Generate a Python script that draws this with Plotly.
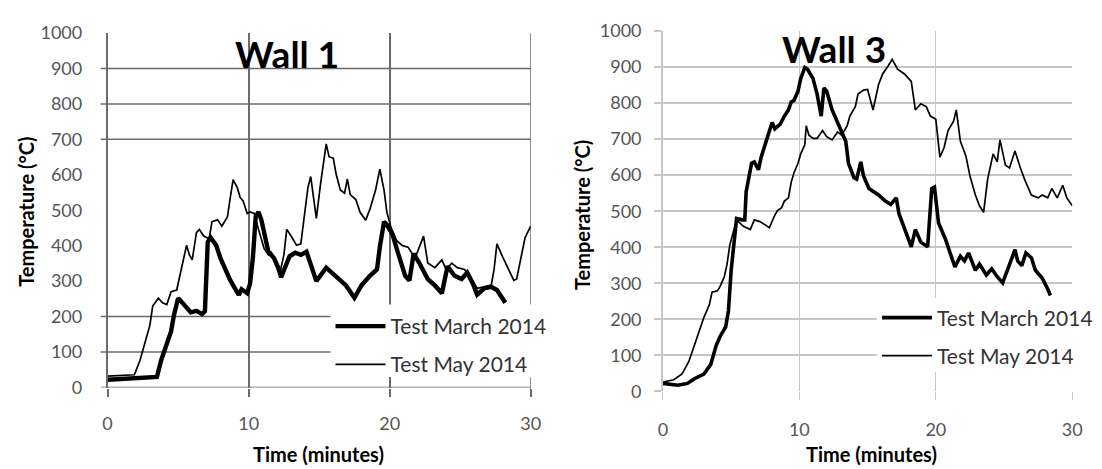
import plotly.graph_objects as go

# ---- Wall 1 : furnace temperature vs. time ----
w1_march_t = [0, 1.5, 3.0, 3.5, 3.8, 4.2, 4.5, 4.7, 5.0, 5.3,
              5.7, 5.9, 6.3, 6.7, 6.9, 7.1, 7.3, 7.7, 8.0, 8.4,
              8.7, 9.1, 9.3, 9.5, 9.9, 10.1, 10.3, 10.5, 10.7, 10.9,
              11.2, 11.4, 11.8, 12.1, 12.3, 12.6, 12.9, 13.3, 13.7, 14.1,
              14.4, 14.8, 15.5, 16.2, 16.9, 17.5, 18.0, 18.6, 19.1, 19.3,
              19.6, 19.8, 20.2, 20.6, 21.1, 21.4, 21.7, 22.1, 22.7, 23.2,
              23.7, 24.1, 24.6, 25.1, 25.5, 25.9, 26.2, 26.7, 27.2, 27.6,
              28.0, 28.2]
w1_march_v = [22, 25, 28, 30, 77, 122, 158, 203, 252, 239,
              221, 212, 216, 207, 215, 410, 423, 401, 365, 329,
              302, 275, 261, 277, 266, 293, 365, 482, 495, 473,
              419, 383, 365, 338, 311, 345, 370, 380, 374, 383,
              347, 300, 338, 315, 288, 253, 288, 315, 333, 396,
              468, 459, 432, 378, 315, 302, 378, 351, 306, 288,
              266, 342, 315, 306, 324, 293, 262, 280, 284, 275,
              253, 239]

w1_may_t = [0, 1.9, 2.3, 2.6, 3.0, 3.2, 3.6, 3.9, 4.2, 4.5,
            4.9, 5.1, 5.3, 5.6, 5.8, 6.0, 6.3, 6.5, 6.8, 7.2,
            7.4, 7.8, 8.1, 8.5, 8.7, 8.9, 9.2, 9.4, 9.6, 9.9,
            10.1, 10.4, 10.7, 11.1, 11.4, 11.6, 11.9, 12.2, 12.5, 12.7,
            13.0, 13.4, 13.7, 14.0, 14.2, 14.4, 14.6, 14.8, 15.1, 15.5,
            15.7, 16.0, 16.2, 16.5, 16.8, 17.0, 17.2, 17.6, 17.9, 18.3,
            18.6, 19.0, 19.3, 19.6, 19.8, 20.1, 20.5, 20.9, 21.3, 21.8,
            22.4, 22.7, 23.2, 23.7, 24.0, 24.4, 24.8, 25.3, 25.8, 26.2,
            26.7, 27.2, 27.4, 27.6, 28.0, 28.5, 28.8, 29.0, 29.4, 29.6,
            30.0]
w1_may_v = [32, 36, 77, 122, 176, 230, 252, 239, 234, 270,
            275, 311, 347, 401, 374, 360, 437, 446, 428, 419,
            468, 473, 455, 482, 536, 586, 563, 536, 527, 491,
            495, 491, 446, 392, 374, 383, 347, 320, 374, 446,
            428, 401, 405, 500, 563, 595, 540, 477, 575, 687,
            651, 647, 602, 557, 548, 588, 544, 530, 494, 472,
            503, 557, 616, 557, 494, 450, 414, 400, 396, 365,
            427, 351, 338, 360, 333, 351, 338, 333, 306, 280,
            284, 289, 333, 405, 369, 324, 302, 306, 378, 423,
            455]

# ---- Wall 3 ----
w3_march_t = [0, 1.1, 1.8, 2.3, 3.0, 3.5, 3.9, 4.2, 4.6, 4.8,
              5.0, 5.2, 5.4, 5.8, 6.0, 6.1, 6.5, 6.7, 7.0, 7.2,
              7.6, 8.0, 8.2, 8.6, 8.9, 9.2, 9.4, 9.6, 9.9, 10.1,
              10.4, 10.6, 11.0, 11.3, 11.6, 11.8, 12.0, 12.4, 12.8, 13.1,
              13.4, 13.6, 14.0, 14.2, 14.5, 14.7, 15.1, 15.8, 16.3, 16.7,
              17.1, 17.3, 17.7, 18.2, 18.5, 18.9, 19.4, 19.7, 19.9, 20.2,
              20.7, 21.1, 21.4, 21.8, 22.1, 22.4, 22.9, 23.2, 23.7, 24.1,
              24.5, 24.9, 25.3, 25.8, 26.0, 26.3, 26.6, 27.0, 27.3, 27.8,
              28.2, 28.4]
w3_march_v = [22, 17, 22, 35, 48, 74, 127, 153, 179, 223,
              336, 406, 480, 476, 476, 554, 633, 637, 615, 650,
              702, 746, 729, 742, 764, 781, 803, 807, 833, 868,
              899, 894, 868, 825, 764, 842, 833, 781, 746, 720,
              694, 633, 593, 589, 637, 598, 563, 545, 528, 519,
              537, 493, 449, 401, 449, 414, 401, 563, 567, 467,
              423, 380, 345, 375, 362, 384, 336, 353, 323, 340,
              318, 301, 345, 393, 362, 349, 384, 371, 336, 314,
              284, 266]

w3_may_t = [0, 0.8, 1.4, 1.9, 2.3, 2.7, 3.0, 3.4, 3.6, 4.0,
            4.2, 4.5, 4.7, 4.9, 5.2, 5.4, 5.9, 6.4, 6.7, 7.1,
            7.5, 7.8, 8.2, 8.4, 8.7, 8.9, 9.2, 9.4, 9.6, 9.9,
            10.1, 10.4, 10.5, 10.7, 11.0, 11.3, 11.7, 12.0, 12.4, 12.8,
            13.1, 13.5, 13.7, 14.1, 14.3, 14.7, 15.0, 15.4, 15.8, 16.1,
            16.5, 16.8, 17.2, 17.7, 18.2, 18.5, 18.9, 19.3, 19.6, 20.0,
            20.3, 20.6, 20.9, 21.3, 21.5, 21.8, 22.2, 22.5, 22.9, 23.2,
            23.5, 23.8, 24.2, 24.5, 24.7, 25.1, 25.4, 25.8, 26.2, 26.5,
            27.0, 27.5, 27.8, 28.2, 28.5, 28.9, 29.3, 29.6, 30.0]
w3_may_v = [26, 32, 48, 83, 127, 170, 205, 240, 275, 279,
            292, 318, 353, 406, 449, 476, 458, 449, 476, 471,
            462, 454, 489, 502, 510, 528, 537, 580, 606, 633,
            659, 685, 737, 711, 702, 702, 724, 707, 698, 720,
            711, 737, 764, 790, 825, 836, 838, 781, 851, 881,
            903, 921, 894, 881, 860, 781, 798, 790, 764, 755,
            650, 676, 724, 750, 781, 694, 654, 598, 545, 515,
            497, 589, 659, 637, 698, 628, 620, 667, 620, 589,
            545, 537, 545, 537, 563, 537, 572, 537, 515]

time_ticks = [0, 10, 20, 30]
temp_ticks = list(range(0, 1001, 100))
w1_grid_levels = [0, 100, 200, 700, 800, 900]
series_names = ["Test March 2014", "Test May 2014"]
panel_titles = ["Wall 1", "Wall 3"]

W, H = 1102, 469
FONT = "Lato"


def fx(px):
    return px / W


def fy(py):
    return (H - py) / H


fig = go.Figure()

# Wall 1 traces
fig.add_trace(go.Scatter(x=w1_march_t, y=w1_march_v, mode="lines", name=series_names[0],
                         line=dict(color="black", width=4.4), xaxis="x", yaxis="y", legend="legend"))
fig.add_trace(go.Scatter(x=w1_may_t, y=w1_may_v, mode="lines", name=series_names[1],
                         line=dict(color="black", width=1.7), xaxis="x", yaxis="y", legend="legend2"))
# Wall 3 traces
fig.add_trace(go.Scatter(x=w3_march_t, y=w3_march_v, mode="lines", name=series_names[0],
                         line=dict(color="black", width=3.6), xaxis="x2", yaxis="y2", legend="legend3"))
fig.add_trace(go.Scatter(x=w3_may_t, y=w3_may_v, mode="lines", name=series_names[1],
                         line=dict(color="black", width=1.7), xaxis="x2", yaxis="y2", legend="legend4"))

tick_font = dict(family=FONT, size=18, color="#555555")
dark_grid = "#6a6a6a"
light_grid = "#c6c6c6"

fig.update_layout(
    width=W, height=H,
    margin=dict(l=0, r=0, t=0, b=0),
    paper_bgcolor="white", plot_bgcolor="white",
    showlegend=True,
    xaxis=dict(domain=[fx(104), fx(533)], range=[0, 30], tickvals=time_ticks,
               showgrid=True, gridcolor=dark_grid, gridwidth=1.5, zeroline=False,
               showline=False, ticks="outside", ticklen=8, tickcolor=dark_grid, tickwidth=1.5,
               tickfont=tick_font, ticklabelstandoff=12, anchor="y"),
    yaxis=dict(domain=[fy(394), fy(22)], range=[0, 1000], tickvals=temp_ticks,
               showgrid=False, zeroline=False, showline=True, linecolor=dark_grid, linewidth=1.5,
               ticks="", tickfont=tick_font, ticklabelstandoff=20, anchor="x"),
    xaxis2=dict(domain=[fx(667), fx(1082)], range=[0, 30], tickvals=time_ticks,
                showgrid=True, gridcolor=light_grid, gridwidth=1.3, zeroline=False,
                showline=False, ticks="outside", ticklen=8, tickcolor=light_grid, tickwidth=1.3,
                tickfont=tick_font, ticklabelstandoff=14, anchor="y2"),
    yaxis2=dict(domain=[fy(398), fy(20)], range=[0, 1000], tickvals=temp_ticks,
                showgrid=True, gridcolor=light_grid, gridwidth=2, zeroline=False,
                showline=True, linecolor=light_grid, linewidth=1.5,
                ticks="outside", ticklen=7, tickcolor=light_grid, tickwidth=2,
                tickfont=tick_font, ticklabelstandoff=9, anchor="x2"),
)

# Horizontal grid of the Wall 1 panel, plus its right-hand border at 30 min
shapes = []
for lv in w1_grid_levels:
    shapes.append(dict(type="line", xref="x domain", yref="y", x0=-7 / 429, x1=1, y0=lv, y1=lv,
                       line=dict(color=dark_grid, width=1.5), layer="below"))
shapes.append(dict(type="line", xref="x", yref="y domain", x0=30, x1=30, y0=-8 / 372, y1=1,
                   line=dict(color=dark_grid, width=1.5), layer="below"))
# White panels behind the legends
shapes.append(dict(type="rect", xref="paper", yref="paper", x0=fx(330), x1=fx(555), y0=fy(383), y1=fy(307),
                   fillcolor="white", line=dict(width=0), layer="above"))
shapes.append(dict(type="rect", xref="paper", yref="paper", x0=fx(884), x1=fx(1101), y0=fy(378), y1=fy(300),
                   fillcolor="white", line=dict(width=0), layer="above"))
fig.update_layout(shapes=shapes)

legend_font = dict(family=FONT, size=21, color="#333333")
legend_common = dict(xanchor="left", yanchor="middle", bgcolor="rgba(0,0,0,0)", borderwidth=0,
                     font=legend_font, itemwidth=50, xref="paper", yref="paper")
fig.update_layout(
    legend=dict(x=fx(330), y=fy(330), **legend_common),
    legend2=dict(x=fx(330), y=fy(370), **legend_common),
    legend3=dict(x=fx(884), y=fy(321), **legend_common),
    legend4=dict(x=fx(884), y=fy(361), **legend_common),
)

annotations = [
    dict(text="<b>%s</b>" % panel_titles[0], x=fx(286), y=fy(44)),
    dict(text="<b>%s</b>" % panel_titles[1], x=fx(840), y=fy(38)),
]
for a in annotations:
    a.update(xref="paper", yref="paper", showarrow=False, xanchor="center", yanchor="middle",
             font=dict(family=FONT, size=37, color="black"))

axis_titles = [
    dict(text="<b>Temperature (°C)</b>", x=fx(21), y=fy(210), textangle=-90, size=20),
    dict(text="<b>Temperature (°C)</b>", x=fx(585), y=fy(213), textangle=-90, size=20),
    dict(text="<b>Time (minutes)</b>", x=fx(318), y=fy(464), size=20),
    dict(text="<b>Time (minutes)</b>", x=fx(878), y=fy(464), size=20),
]
for a in axis_titles:
    fsize = a.pop("size")
    a.update(xref="paper", yref="paper", showarrow=False, xanchor="center", yanchor="middle",
             font=dict(family=FONT, size=fsize, color="black"))

fig.update_layout(annotations=annotations + axis_titles)

fig.write_html("out.html")
